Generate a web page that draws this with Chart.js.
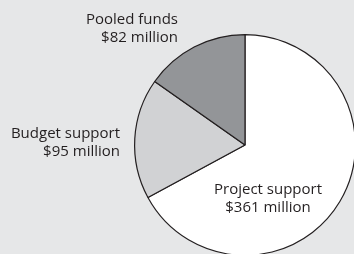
<!DOCTYPE html>
<html>
<head>
<meta charset="utf-8">
<script src="https://cdn.jsdelivr.net/npm/chart.js@4"></script>
<style>
  html, body { margin: 0; padding: 0; background: #e6e7e8; overflow: hidden; }
  #wrap { width: 358px; height: 260px; }
</style>
</head>
<body>
<div id="wrap"><canvas id="pie-chart"></canvas></div>
<script>
const categories = ['Project support', 'Budget support', 'Pooled funds'];
const amounts = [361, 95, 82];
const valueLabels = ['$361 million', '$95 million', '$82 million'];
const sliceColors = ['#ffffff', '#d1d2d4', '#939598'];

// label placement per slice: [dx, dy from pie centre, align]
const labelSpots = [
    { dx: 23, dy: 45, align: 'center' },
    { dx: -125, dy: -11, align: 'right' },
    { dx: -67, dy: -125, align: 'right' }
];

const sliceLabels = {
    id: 'sliceLabels',
    afterDraw(chart) {
        const ctx = chart.ctx;
        const arc = chart.getDatasetMeta(0).data[0];
        ctx.save();
        ctx.fillStyle = '#231f20';
        ctx.font = '15px "Open Sans"';
        ctx.textBaseline = 'middle';
        categories.forEach((name, i) => {
            const spot = labelSpots[i];
            ctx.textAlign = spot.align;
            ctx.fillText(name, arc.x + spot.dx, arc.y + spot.dy);
            ctx.fillText(valueLabels[i], arc.x + spot.dx, arc.y + spot.dy + 18);
        });
        ctx.restore();
    }
};

new Chart(document.querySelector('#pie-chart').getContext('2d'), {
    type: 'pie',
    data: {
        labels: categories,
        datasets: [{
            data: amounts,
            backgroundColor: sliceColors,
            borderColor: '#231f20',
            borderWidth: 1.2
        }]
    },
    options: {
        responsive: true,
        maintainAspectRatio: false,
        animation: false,
        layout: { padding: { left: 134, top: 34, right: 2, bottom: 4 } },
        plugins: {
            legend: { display: false },
            tooltip: { enabled: false }
        }
    },
    plugins: [sliceLabels]
});
</script>
</body>
</html>
